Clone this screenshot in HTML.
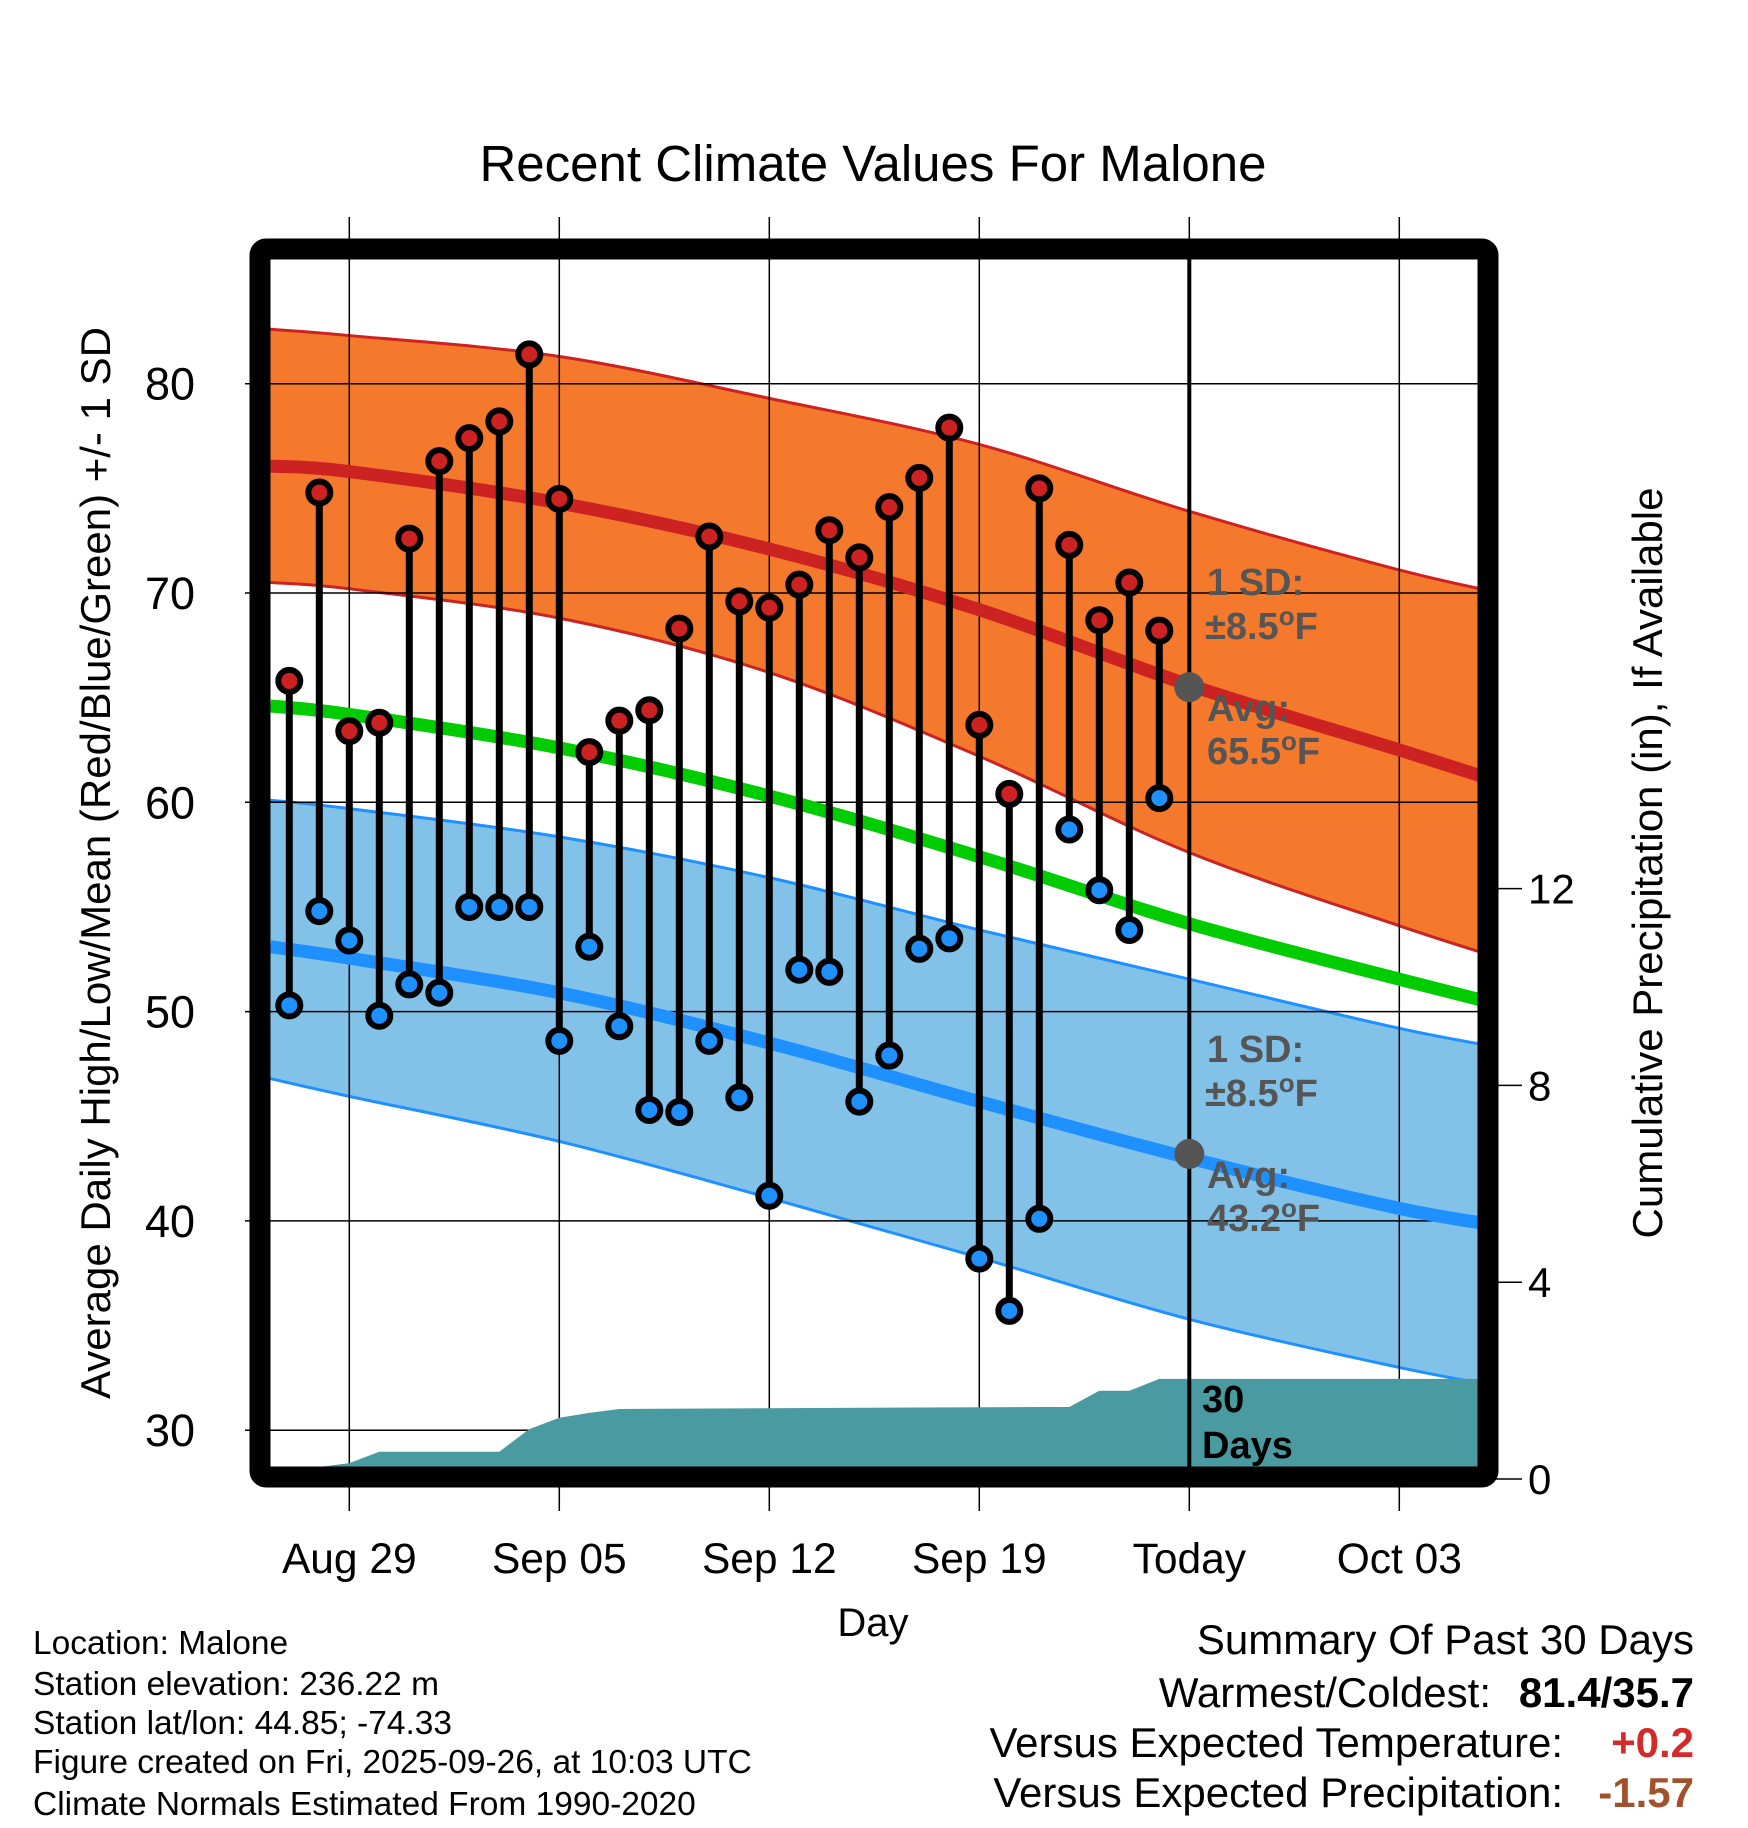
<!DOCTYPE html>
<html><head><meta charset="utf-8"><style>
html,body{margin:0;padding:0;background:#fff;}
svg{display:block;font-family:"Liberation Sans",sans-serif;}
</style></head><body>
<svg id="chart" width="1748" height="1828" viewBox="0 0 1748 1828" xmlns="http://www.w3.org/2000/svg">
<defs><clipPath id="plotclip"><rect x="270" y="259" width="1208" height="1208"/></clipPath></defs>
<g id="bands" clip-path="url(#plotclip)"></g><g id="grid"></g><g id="lines" clip-path="url(#plotclip)"></g><g id="precip"></g><g id="marks"></g><g id="frame"></g><g id="labels"></g>
</svg>
<script>
// Data (day index relative to Aug 29 = 0)
const obsDays = [-2,-1,0,1,2,3,4,5,6,7,8,9,10,11,12,13,14,15,16,17,18,19,20,21,22,23,24,25,26,27];
const highs = [65.8,74.8,63.4,63.8,72.6,76.3,77.4,78.2,81.4,74.5,62.4,63.9,64.4,68.3,72.7,69.6,69.3,70.4,73.0,71.7,74.1,75.5,77.9,63.7,60.4,75.0,72.3,68.7,70.5,68.2];
const lows = [50.3,54.8,53.4,49.8,51.3,50.9,55.0,55.0,55.0,48.6,53.1,49.3,45.3,45.2,48.6,45.9,41.2,52.0,51.9,45.7,47.9,53.0,53.5,38.2,35.7,40.1,58.7,55.8,53.9,60.2];
const precipDays = [-1,0,1,5,6,7,8,9,23,24,25,26,27,38.7];
const precipVals = [0,0.08,0.31,0.31,0.77,1.0,1.1,1.18,1.22,1.22,1.55,1.55,1.79,1.79];
const normDays = [-2.63,0,7,14,21,28,35,38.7];
const hiUpper = [82.6,82.3,81.3,79.3,77.1,73.9,71.1,69.9];
const hiMean = [76.06,75.8,74.3,72.1,69.2,65.6,62.5,60.8];
const hiLower = [70.5,70.2,68.8,66.2,62.2,57.6,54.1,52.4];
const meanNorm = [64.6,64.2,62.6,60.3,57.4,54.2,51.55,50.2];
const loUpper = [60.1,59.7,58.35,56.4,53.9,51.55,49.2,48.2];
const loMean = [53.1,52.55,50.9,48.5,45.7,43.0,40.6,39.7];
const loLower = [46.8,45.95,43.8,41.1,38.25,35.3,33.0,32.0];
const yTicks = [30,40,50,60,70,80];
const xTickDays = [0,7,14,21,28,35];
const xTickLabels = ["Aug 29","Sep 05","Sep 12","Sep 19","Today","Oct 03"];
const pTicks = [0,4,8,12];
const todayDay = 28, todayHi = 65.5, todayLo = 43.2;

const L=270,R=1478,T=259,B=1467;
const X=d=>349.3+d*30;
const Y=v=>383.7+(80-v)*20.93;
const P=p=>1479-p*49.2;
const PF=p=>1467-p*49.2;
const NS="http://www.w3.org/2000/svg";
function mk(parent,tag,attrs){const e=document.createElementNS(NS,tag);for(const k in attrs)e.setAttribute(k,attrs[k]);document.getElementById(parent).appendChild(e);return e;}
function smooth(days,vals,start){
  const p=days.map((d,i)=>[X(d),Y(vals[i])]);
  let s=(start?"M":"L")+p[0][0]+","+p[0][1];
  for(let i=0;i<p.length-1;i++){
    const p0=p[Math.max(0,i-1)],p1=p[i],p2=p[i+1],p3=p[Math.min(p.length-1,i+2)];
    const c1=[p1[0]+(p2[0]-p0[0])/6,p1[1]+(p2[1]-p0[1])/6];
    const c2=[p2[0]-(p3[0]-p1[0])/6,p2[1]-(p3[1]-p1[1])/6];
    s+=" C"+c1[0]+","+c1[1]+" "+c2[0]+","+c2[1]+" "+p2[0]+","+p2[1];
  }
  return s;
}
let e;
e=mk('bands','path',{d:smooth(normDays,hiUpper,true)+" "+smooth(normDays.slice().reverse(),hiLower.slice().reverse(),false)+"Z",fill:'#f4792c'});


e=mk('bands','path',{d:smooth(normDays,loUpper,true)+" "+smooth(normDays.slice().reverse(),loLower.slice().reverse(),false)+"Z",fill:'#82c2e8'});


[[hiUpper,'#cc2222','high-upper-line'],[hiLower,'#cc2222','high-lower-line'],[loUpper,'#1e90ff','low-upper-line'],[loLower,'#1e90ff','low-lower-line']].forEach(a=>{
  e=mk('bands','path',{d:smooth(normDays,a[0],true),fill:'none',stroke:a[1],'stroke-width':3});
  
  
});
// grid
yTicks.forEach(v=>{
  e=mk('grid','line',{x1:245,x2:R,y1:Y(v),y2:Y(v),stroke:'#000','stroke-width':1.5});
  
  
  e=mk('labels','text',{x:195,y:Y(v)+16,'text-anchor':'end','font-size':45});
  e.textContent=v;
  
  
});
for(let v=30;v<=85;v+=5){if(v%10){e=mk('grid','line',{x1:253,x2:L,y1:Y(v),y2:Y(v),stroke:'#000','stroke-width':1.5});
  
  }}
xTickDays.forEach((d,i)=>{
  e=mk('grid','line',{x1:X(d),x2:X(d),y1:217,y2:1511,stroke:'#000','stroke-width':1.5});
  
  
  e=mk('labels','text',{x:X(d),y:1573,'text-anchor':'middle','font-size':42.5});
  e.textContent=xTickLabels[i];
  
  
});
pTicks.forEach(p=>{
  e=mk('grid','line',{x1:R,x2:1522,y1:P(p),y2:P(p),stroke:'#000','stroke-width':1.5});
  
  
  e=mk('labels','text',{x:1528,y:P(p)+15,'font-size':42});
  e.textContent=p;
  
  
});
// normal lines
[[hiMean,'#cc2222','normal-high-line'],[meanNorm,'#00cc00','normal-mean-line'],[loMean,'#1e90ff','normal-low-line']].forEach(a=>{
  e=mk('lines','path',{d:smooth(normDays,a[0],true),fill:'none',stroke:a[1],'stroke-width':13});
  
  
});
// precip
const pe=Math.min(R,X(precipDays[precipDays.length-1]));
e=mk('precip','polygon',{points:precipDays.map((d,i)=>Math.min(R,X(d))+","+PF(precipVals[i])).join(" ")+" "+pe+","+B+" "+X(precipDays[0])+","+B,fill:'#4a9aa2'});


// today line
e=mk('precip','line',{x1:X(todayDay),x2:X(todayDay),y1:T,y2:B,stroke:'#000','stroke-width':4});


// obs
obsDays.forEach((d,i)=>{
  e=mk('marks','line',{x1:X(d),x2:X(d),y1:Y(highs[i]),y2:Y(lows[i]),stroke:'#000','stroke-width':7});
  
  
});
obsDays.forEach((d,i)=>{
  e=mk('marks','circle',{cx:X(d),cy:Y(highs[i]),r:11,fill:'#cc2222',stroke:'#000','stroke-width':6});
  
  
  e=mk('marks','circle',{cx:X(d),cy:Y(lows[i]),r:11,fill:'#1e90ff',stroke:'#000','stroke-width':6});
  
  
});
[todayHi,todayLo].forEach(v=>{
  e=mk('marks','circle',{cx:X(todayDay),cy:Y(v),r:15,fill:'#555'});
  
  
});
// frame
e=mk('frame','rect',{x:260,y:249,width:1228,height:1228,rx:6,fill:'none',stroke:'#000','stroke-width':21});


// annotations
function ann(x,y,txt,name,fs,fill){e=mk('labels','text',{x:x,y:y,'font-size':fs,'font-weight':'bold',fill:fill});e.innerHTML=txt;}
ann(1207,595,'1 SD:','high-sd-label',38,'#555');
ann(1205,639,'±8.5<tspan dy="-14" font-size="26">o</tspan><tspan dy="14">F</tspan>','high-sd-value',38,'#555');
ann(1207,721,'Avg:','high-avg-label',38,'#555');
ann(1207,764,'65.5<tspan dy="-14" font-size="26">o</tspan><tspan dy="14">F</tspan>','high-avg-value',38,'#555');
ann(1207,1062,'1 SD:','low-sd-label',38,'#555');
ann(1205,1106,'±8.5<tspan dy="-14" font-size="26">o</tspan><tspan dy="14">F</tspan>','low-sd-value',38,'#555');
ann(1207,1188,'Avg:','low-avg-label',38,'#555');
ann(1207,1231,'43.2<tspan dy="-14" font-size="26">o</tspan><tspan dy="14">F</tspan>','low-avg-value',38,'#555');
ann(1202,1412,'30','days-label-1',38,'#000');
ann(1202,1458,'Days','days-label-2',38,'#000');
</script>
<script>
(function(){
const NS="http://www.w3.org/2000/svg";const g=document.getElementById('labels');
function t(x,y,s,fs,anchor,extra){const e=document.createElementNS(NS,'text');e.setAttribute('x',x);e.setAttribute('y',y);e.setAttribute('font-size',fs);e.setAttribute('text-anchor',anchor);if(extra)for(const k in extra)e.setAttribute(k,extra[k]);e.textContent=s;g.appendChild(e);return e;}
let e;
e=t(873,181,'Recent Climate Values For Malone',51,'middle');


e=t(0,0,'Average Daily High/Low/Mean (Red/Blue/Green) +/- 1 SD',42,'middle',{transform:'translate(110,863) rotate(-90)'});


e=t(0,0,'Cumulative Precipitation (in), If Available',42,'middle',{transform:'translate(1662,863) rotate(-90)'});


e=t(873,1636,'Day',40,'middle');


const info=['Location: Malone','Station elevation: 236.22 m','Station lat/lon: 44.85; -74.33','Figure created on Fri, 2025-09-26, at 10:03 UTC','Climate Normals Estimated From 1990-2020'];
const ys=[1654,1695,1734,1773,1815];
info.forEach((s,i)=>{e=t(33,ys[i],s,33.5,'start');

});
e=t(1694,1654,'Summary Of Past 30 Days',42,'end');


e=t(1491,1707,'Warmest/Coldest:',42,'end');


e=t(1694,1707,'81.4/35.7',42,'end',{'font-weight':'bold'});


e=t(1563,1757,'Versus Expected Temperature:',42,'end');


e=t(1694,1757,'+0.2',42,'end',{'font-weight':'bold',fill:'#d42a2a'});


e=t(1563,1807,'Versus Expected Precipitation:',42,'end');


e=t(1694,1807,'-1.57',42,'end',{'font-weight':'bold',fill:'#a0522d'});


})();
</script>
</body></html>
